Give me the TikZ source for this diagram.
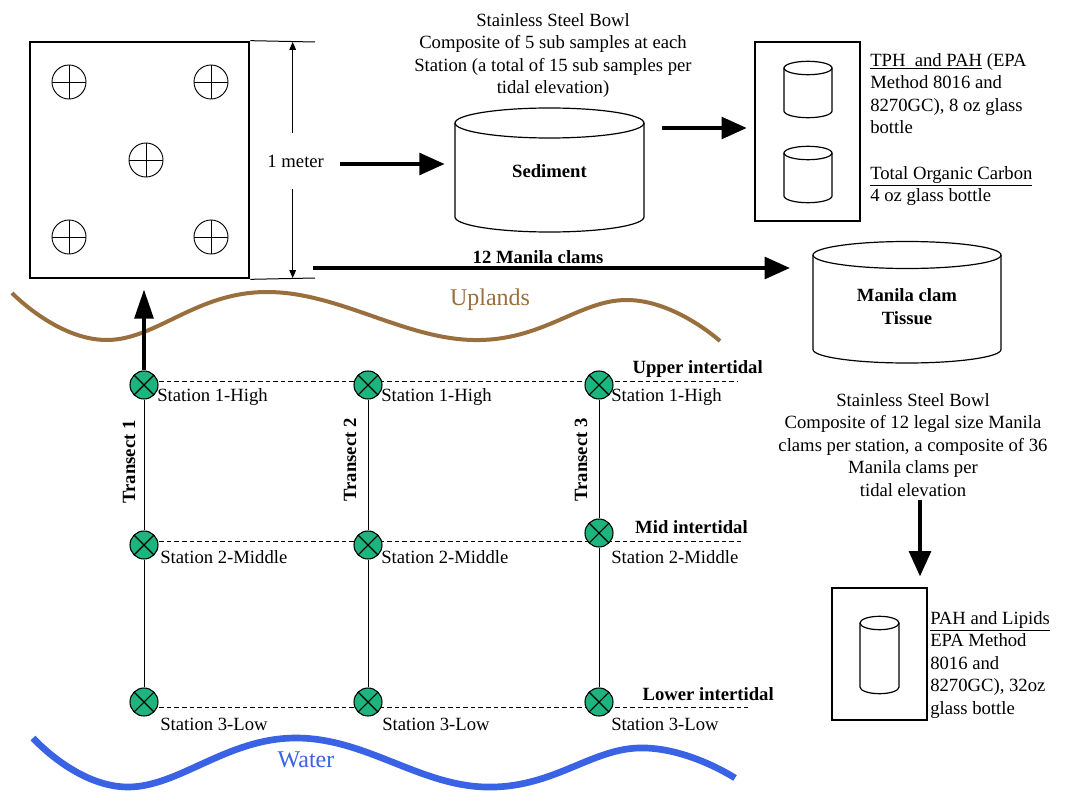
\documentclass[tikz,border=0pt]{standalone}
\usepackage{fontspec}
\setmainfont{Liberation Serif}
\usetikzlibrary{arrows.meta,calc}
\pgfdeclarelayer{bg}
\pgfsetlayers{bg,main}
\definecolor{upbrown}{RGB}{153,112,61}
\definecolor{waterblue}{RGB}{58,98,228}
\definecolor{stgreen}{RGB}{30,180,125}
\newcommand\drawcyl[5]{%
  \draw[cylline] (#1-#4,#2) -- (#1-#4,#3) arc[start angle=180,end angle=0,x radius=#4,y radius=#5] -- (#1+#4,#2);
  \draw[cylline] (#1,#2) ellipse[x radius=#4,y radius=#5];}
\begin{document}
\begin{tikzpicture}[x=0.75pt,y=-0.75pt,
  every node/.style={inner sep=0pt,font=\fontsize{14}{16.9}\selectfont},
  boldtxt/.style={font=\fontsize{14}{16.9}\selectfont\bfseries},
  cylline/.style={line width=0.9pt},
  boxline/.style={draw,line width=2.2pt},
  plotc/.style={circle,draw,line width=0.7pt,minimum size=25.5pt,
    path picture={\draw[line width=0.7pt] (path picture bounding box.north) -- (path picture bounding box.south)
      (path picture bounding box.west) -- (path picture bounding box.east);}},
  station/.style={circle,draw,line width=0.8pt,fill=stgreen,minimum size=21pt,
    path picture={\draw[line width=0.8pt] (path picture bounding box.north west) -- (path picture bounding box.south east)
      (path picture bounding box.north east) -- (path picture bounding box.south west);}},
  slab/.style={anchor=west},
  tlab/.style={boldtxt,rotate=90},
  tline/.style={line width=0.75pt},
  guide/.style={line width=0.75pt,dash pattern=on 3.5pt off 2.2pt},
  bigarrow/.style={line width=3.5pt,-{Triangle[length=19pt,width=16pt]}},
  uparrow/.style={line width=3pt,-{Triangle[length=22pt,width=14pt]}},
  dimtip/.style={line width=0.75pt,-{Triangle[length=6pt,width=5pt]}},
  thinline/.style={line width=0.75pt}]
\useasboundingbox (0,0) rectangle (1065,792);

% quadrat
\node[boxline,line width=2pt,minimum width=164.25pt,minimum height=177pt] (quad) at (139.5,160) {};
\node[plotc] (q1) at (69,82) {};
\node[plotc] (q2) at (211,82) {};
\node[plotc] (q3) at (146,160) {};
\node[plotc] (q4) at (69,237) {};
\node[plotc] (q5) at (211,237) {};

% dimension
\coordinate (d1) at (315,42);
\coordinate (d2) at (315,278);
\coordinate (dt) at (292.7,42);
\coordinate (db) at (292.7,278);
\draw[thinline] (quad.north east) -- (d1);
\draw[thinline] (quad.south east) -- (d2);
\node[minimum height=42pt] (meter) at (295.7,161) {1 meter};
\draw[dimtip] (meter.north -| dt) -- (dt);
\draw[dimtip] (meter.south -| db) -- (db);

% sediment
\node[align=center,anchor=north] (sedtitle) at (553,13) {Stainless Steel Bowl\\Composite of 5 sub samples at each\\Station (a total of 15 sub samples per\\tidal elevation)};
\node[boldtxt,minimum width=141.75pt,minimum height=93pt] (sed) at (549.5,171) {Sediment};
\drawcyl{549.5}{123}{217}{94.5}{15}
\coordinate (m1) at (340,164);
\draw[bigarrow,shorten >=7.5pt] (m1) -- (m1 -| sed.west);

% bottle box
\node[boxline,minimum width=78.75pt,minimum height=134.25pt] (bbox) at (807.5,131.5) {};
\drawcyl{808}{68}{111}{24}{6.7}
\drawcyl{808}{153}{196}{24}{6.7}
\coordinate (m2) at (662,128);
\draw[bigarrow,shorten >=5pt] (m2) -- (m2 -| bbox.west);
\node[anchor=north west,align=left] (tph) at (870,53) {\underline{TPH\ \ and PAH} (EPA\\Method 8016 and\\8270GC), 8 oz glass\\bottle};
\node[anchor=north west,align=left] (toc) at (870,166) {\underline{Total Organic Carbon}\\4 oz glass bottle};

% clam tissue
\node[boldtxt,align=center,minimum width=141pt,minimum height=80pt] (clam) at (907,306.5) {Manila clam\\Tissue};
\drawcyl{907}{255}{349.5}{94}{13.5}
\coordinate (c1) at (313,268);
\draw[bigarrow,shorten >=17pt] (c1) -- (c1 -| clam.west);
\node[boldtxt] (mclab) at (538,257) {12 Manila clams};
\node[align=center,anchor=north] (clamtext) at (913,393) {Stainless Steel Bowl\\Composite of 12 legal size Manila\\clams per station, a composite of 36\\Manila clams per\\tidal elevation};

% lower box
\node[boxline,minimum width=71.25pt,minimum height=99pt] (lbox) at (879.5,654) {};
\drawcyl{879.5}{623}{687}{19.5}{6.7}
\coordinate (c2) at (920,500);
\draw[bigarrow,shorten >=7.5pt] (c2) -- (c2 |- lbox.north);
\node[anchor=north west,align=left] (lipids) at (930,611) {\underline{PAH and Lipids}\\EPA Method\\8016 and\\8270GC), 32oz\\glass bottle};

% waves
\draw[upbrown,line width=3pt] plot[smooth,tension=0.7] coordinates {(12,293) (107,340) (267,292) (473,340) (627,300) (720,341)};
\node[text=upbrown,font=\fontsize{18}{20}\selectfont] (uplands) at (490,300) {Uplands};
\draw[waterblue,line width=5pt] plot[smooth,tension=0.7] coordinates {(33,738) (128,787) (296,738) (485,787) (638,748) (735,778)};
\node[text=waterblue,font=\fontsize{18}{20}\selectfont] (water) at (306,760) {Water};

% stations
\node[station] (s11) at (144,385) {};
\node[station] (s12) at (368,385) {};
\node[station] (s13) at (599,385) {};
\node[station] (s21) at (144,545) {};
\node[station] (s22) at (368,545) {};
\node[station] (s23) at (599,533) {};
\node[station] (s31) at (144,702) {};
\node[station] (s32) at (368,702) {};
\node[station] (s33) at (599,702) {};
\coordinate (u1) at (738,381);
\coordinate (u2) at (742,541);
\coordinate (u3) at (748,707);
\begin{pgfonlayer}{bg}
\fill[white] (0,0) rectangle (1065,792);
\draw[tline] (s11) -- (s21) -- (s31);
\draw[tline] (s12) -- (s22) -- (s32);
\draw[tline] (s13) -- (s23) -- (s33);
\draw[guide] (s11 |- u1) -- (u1);
\draw[guide] (s21 |- u2) -- (u2);
\draw[guide] (s31 |- u3) -- (u3);
\end{pgfonlayer}
\draw[uparrow,shorten >=7.5pt] (s11.north) -- (s11.north |- quad.south);

\node[slab] (l11) at (157,397) {Station 1-High};
\node[slab] (l12) at (381,397) {Station 1-High};
\node[slab] (l13) at (611,397) {Station 1-High};
\node[slab] (l21) at (160,557) {Station 2-Middle};
\node[slab] (l22) at (381,557) {Station 2-Middle};
\node[slab] (l23) at (611,557) {Station 2-Middle};
\node[slab] (l31) at (160,724) {Station 3-Low};
\node[slab] (l32) at (382,724) {Station 3-Low};
\node[slab] (l33) at (611,724) {Station 3-Low};

\node[boldtxt,anchor=east] (upper) at (763,369) {Upper intertidal};
\node[boldtxt,anchor=east] (mid) at (748,527) {Mid intertidal};
\node[boldtxt,anchor=east] (lower) at (774,694) {Lower intertidal};

\node[tlab] (t1) at (129,462) {Transect 1};
\node[tlab] (t2) at (350,460) {Transect 2};
\node[tlab] (t3) at (581,460) {Transect 3};
\end{tikzpicture}
\end{document}
